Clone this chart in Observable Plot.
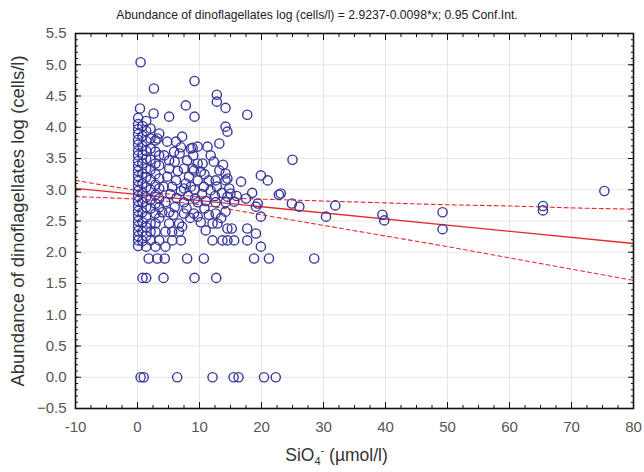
<!DOCTYPE html>
<html><head><meta charset="utf-8">
<script src="https://cdn.jsdelivr.net/npm/d3@7"></script>
<script src="https://cdn.jsdelivr.net/npm/@observablehq/plot@0.6"></script>
<style>
body{margin:0;background:#fff;}
#title{width:644px;height:22px;box-sizing:border-box;padding-top:9px;text-align:center;font:12.2px "Liberation Sans",Arial,sans-serif;color:#222;line-height:13px;padding-right:10px;}
</style></head><body>
<div id="title">Abundance of dinoflagellates log (cells/l) = 2.9237-0.0098*x; 0.95 Conf.Int.</div>
<div id="chart"></div>
<script>
// ---- axis ticks ----
const xTicks = [-10, 0, 10, 20, 30, 40, 50, 60, 70, 80];
const yTicks = [-0.5, 0, 0.5, 1, 1.5, 2, 2.5, 3, 3.5, 4, 4.5, 5, 5.5];

// ---- scattered observations (SiO4 µmol/l, log cells/l) ----
const scatterX = [
  0.5, 2.65, 9.2, 12.8, 12.8, 14.2, 7.8, 17.7, 5.1, 9.2, 0.4, 2.6, 14.2, 14.5, 13.2, 11.3, 8.9, 9.7, 3.2,
  4.8, 6.2, 5.9, 5.1, 5.1, 4.8, 6.2, 5.6, 4.5, 7.5, 5.1, 4.0, 5.1, 6.7, 4.5, 5.6, 6.7, 5.6, 7.0, 4.5, 7.5, 7.2, 4.3, 4.2,
  8.6, 8.0, 9.7, 10.5, 7.5, 9.1, 10.2, 8.3, 9.7, 8.6, 10.7, 7.5, 8.9,
  12.3, 13.2, 14.2, 12.6, 14.2, 11.5, 14.8, 11.8, 14.5,
  16.7, 19.9, 21.0, 22.8, 15.0, 14.5, 15.6,
  9.7, 12.6, 14.2, 19.4, 9.1, 9.7, 12.6, 14.2, 19.9, 12.9, 12.1, 14.5, 15.2, 17.7, 19.1, 19.1,
  12.1, 13.7, 14.5, 15.6, 17.7, 19.9,
  25.0, 23.1, 24.9, 26.1, 30.4, 31.9, 39.5, 39.8, 49.2, 49.2, 65.4, 65.4, 75.3,
  5.3, 6.3, 7.0, 8.2, 9.3, 10.4, 11.0, 12.5, 13.6, 16.0, 17.5, 18.5, 6.0, 7.9, 10.8, 11.5, 8.5, 5.8, 10.2, 11.0,
  13.5, 7.2, 6.8, 11.8, 9.0, 10.8, 7.8, 9.2, 12.8, 13.8, 6.5, 6.0, 7.0
];
const scatterY = [
  5.04, 4.62, 4.74, 4.52, 4.41, 4.31, 4.35, 4.20, 4.17, 4.17, 4.30, 4.22, 4.01, 3.93, 3.74, 3.69, 3.67, 3.69, 3.82,
  3.77, 3.77, 3.61, 3.47, 3.34, 3.21, 3.15, 3.05, 2.80, 2.80, 2.64, 2.64, 2.46, 2.46, 2.33, 2.33, 2.33, 2.19, 2.19, 2.09, 2.62, 2.41, 3.55, 3.05,
  3.66, 3.47, 3.42, 3.42, 3.34, 3.31, 3.29, 3.21, 3.15, 3.05, 3.05, 3.02, 3.34,
  3.45, 3.31, 3.26, 3.15, 3.15, 3.15, 3.02, 2.99, 3.18,
  3.13, 3.23, 3.15, 2.92, 2.94, 2.89, 2.81,
  2.80, 2.80, 2.80, 2.78, 2.62, 2.57, 2.62, 2.65, 2.57, 2.46, 2.46, 2.38, 2.38, 2.38, 2.30, 2.73,
  2.19, 2.19, 2.19, 2.19, 2.19, 2.09,
  3.48, 2.94, 2.78, 2.73, 2.57, 2.75, 2.60, 2.51, 2.64, 2.37, 2.74, 2.67, 2.98,
  2.93, 2.87, 2.98, 2.90, 2.86, 2.93, 2.82, 2.90, 2.95, 2.90, 2.86, 2.95, 2.72, 2.70, 2.70, 2.60, 2.55, 2.60, 2.48, 2.35,
  2.55, 3.85, 3.58, 3.55, 3.55, 3.25, 3.10, 3.00, 3.05, 3.40, 3.30, 3.45, 3.68
];

// ---- dense vertical strips near SiO4 = 0..3.5 ----
const stripX = [0.1, 0.8, 1.4, 2.1, 2.9, 3.5];
const stripY = [
  [4.15, 4.05, 3.97, 3.89, 3.80, 3.72, 3.63, 3.55, 3.46, 3.38, 3.30, 3.22, 3.14, 3.06, 2.98, 2.90, 2.82, 2.74, 2.66, 2.58, 2.50, 2.42, 2.34, 2.26, 2.19, 2.10],
  [4.02, 3.86, 3.70, 3.56, 3.42, 3.26, 3.10, 2.95, 2.80, 2.64, 2.48, 2.33, 2.18],
  [4.10, 3.94, 3.78, 3.62, 3.50, 3.34, 3.20, 3.04, 2.88, 2.72, 2.56, 2.40, 2.26, 2.09],
  [3.98, 3.82, 3.66, 3.48, 3.32, 3.16, 3.00, 2.84, 2.70, 2.46, 2.33, 2.19],
  [3.79, 3.61, 3.42, 3.25, 3.08, 2.92, 2.78, 2.62, 2.46, 2.33, 2.09],
  [3.90, 3.55, 3.39, 3.18, 3.02, 2.86, 2.72, 2.55, 2.19]
];

// ---- horizontal rows at fixed abundance levels ----
const rowLevels = [1.9, 1.59, 0];
const rowX = [
  [1.8, 3.2, 4.4, 8.0, 10.7, 18.8, 21.2, 28.5],
  [0.8, 1.4, 4.2, 9.2, 12.7],
  [0.5, 1.0, 6.4, 12.1, 15.5, 16.3, 20.4, 22.3]
];

// ---- regression line and 0.95 confidence band ----
const fitX = [-10, 80];
const fitY = [3.022, 2.140];
const ciX = [-10, 0, 10, 20, 30, 40, 50, 60, 70, 80];
const ciUpper = [3.15, 2.99, 2.89, 2.85, 2.82, 2.79, 2.76, 2.74, 2.71, 2.69];
const ciLower = [2.89, 2.85, 2.76, 2.60, 2.43, 2.26, 2.09, 1.91, 1.73, 1.55];

// ---- build tables ----
const points = [];
scatterX.forEach((x, i) => points.push({x, y: scatterY[i]}));
stripX.forEach((x, i) => stripY[i].forEach(y => points.push({x, y})));
rowLevels.forEach((y, i) => rowX[i].forEach(x => points.push({x, y})));
const fit = fitX.map((x, i) => ({x, y: fitY[i]}));
const upper = ciX.map((x, i) => ({x, y: ciUpper[i]}));
const lower = ciX.map((x, i) => ({x, y: ciLower[i]}));

const xMinor = d3.range(-10, 80.01, 2.5);
const yMinor = d3.range(-0.5, 5.501, 0.1);
const yTitle = "Abundance of dinoflagellates log (cells/l)";
const xTitle = "SiO4- (µmol/l)";
const red = "#e8282d";
const blank = () => "";
const ink = "#111";

function inwardTicks(values, size) {
  return [
    Plot.axisX(values, {anchor: "bottom", tickSize: size, dy: -size, tickFormat: blank, label: null, stroke: ink}),
    Plot.axisX(values, {anchor: "top", tickSize: size, dy: size, tickFormat: blank, label: null, stroke: ink})
  ];
}
function inwardTicksY(values, size) {
  return [
    Plot.axisY(values, {anchor: "left", tickSize: size, dx: size, tickFormat: blank, label: null, stroke: ink}),
    Plot.axisY(values, {anchor: "right", tickSize: size, dx: -size, tickFormat: blank, label: null, stroke: ink})
  ];
}

const chart = Plot.plot({
  width: 644, height: 450,
  marginLeft: 75, marginRight: 11, marginTop: 11, marginBottom: 64,
  style: {fontFamily: '"Liberation Sans", Arial, sans-serif', background: "white"},
  x: {domain: [-10, 80]},
  y: {domain: [-0.5, 5.5]},
  marks: [
    Plot.gridX(xTicks, {stroke: "#d6d6d6", strokeOpacity: 0.6}),
    Plot.gridY(yTicks, {stroke: "#d6d6d6", strokeOpacity: 0.6}),
    Plot.line(upper, {x: "x", y: "y", stroke: red, strokeWidth: 1.1, strokeDasharray: "4,3", curve: "natural"}),
    Plot.line(lower, {x: "x", y: "y", stroke: red, strokeWidth: 1.1, strokeDasharray: "4,3", curve: "natural"}),
    Plot.line(fit, {x: "x", y: "y", stroke: red, strokeWidth: 1.3}),
    Plot.dot(points, {x: "x", y: "y", r: 4.6, stroke: "#36369c", strokeWidth: 1.4, fill: "none"}),
    ...inwardTicks(xMinor, 3),
    ...inwardTicksY(yMinor, 3),
    ...inwardTicks(xTicks, 6),
    ...inwardTicksY(yTicks, 6),
    Plot.axisX(xTicks, {anchor: "bottom", tickSize: 0, tickPadding: 13, fontSize: 15, fill: "#555", label: null, tickFormat: d => String(d)}),
    Plot.axisY(yTicks, {anchor: "left", tickSize: 0, tickPadding: 9, fontSize: 15, fill: "#555", label: null, tickFormat: d3.format(".1f")}),
    Plot.frame({stroke: ink, strokeWidth: 1.6}),
    Plot.text([yTitle], {frameAnchor: "left", textAnchor: "middle", rotate: -90, dx: -57, fontSize: 18.5, fill: "#333"}),
    Plot.text([xTitle], {frameAnchor: "bottom", textAnchor: "middle", dy: 52, dx: -18, fontSize: 17.5, fill: "#333"})
  ]
});

// subscript / superscript in the x title
d3.select(chart).selectAll("text").filter(function () { return this.textContent === xTitle; }).each(function () {
  const t = d3.select(this);
  t.text(null);
  t.append("tspan").text("SiO");
  t.append("tspan").attr("font-size", "11px").attr("dy", "4").text("4");
  t.append("tspan").attr("font-size", "11px").attr("dy", "-11").text("-");
  t.append("tspan").attr("dy", "7").text(" (µmol/l)");
});

document.getElementById("chart").append(chart);
</script></body></html>
